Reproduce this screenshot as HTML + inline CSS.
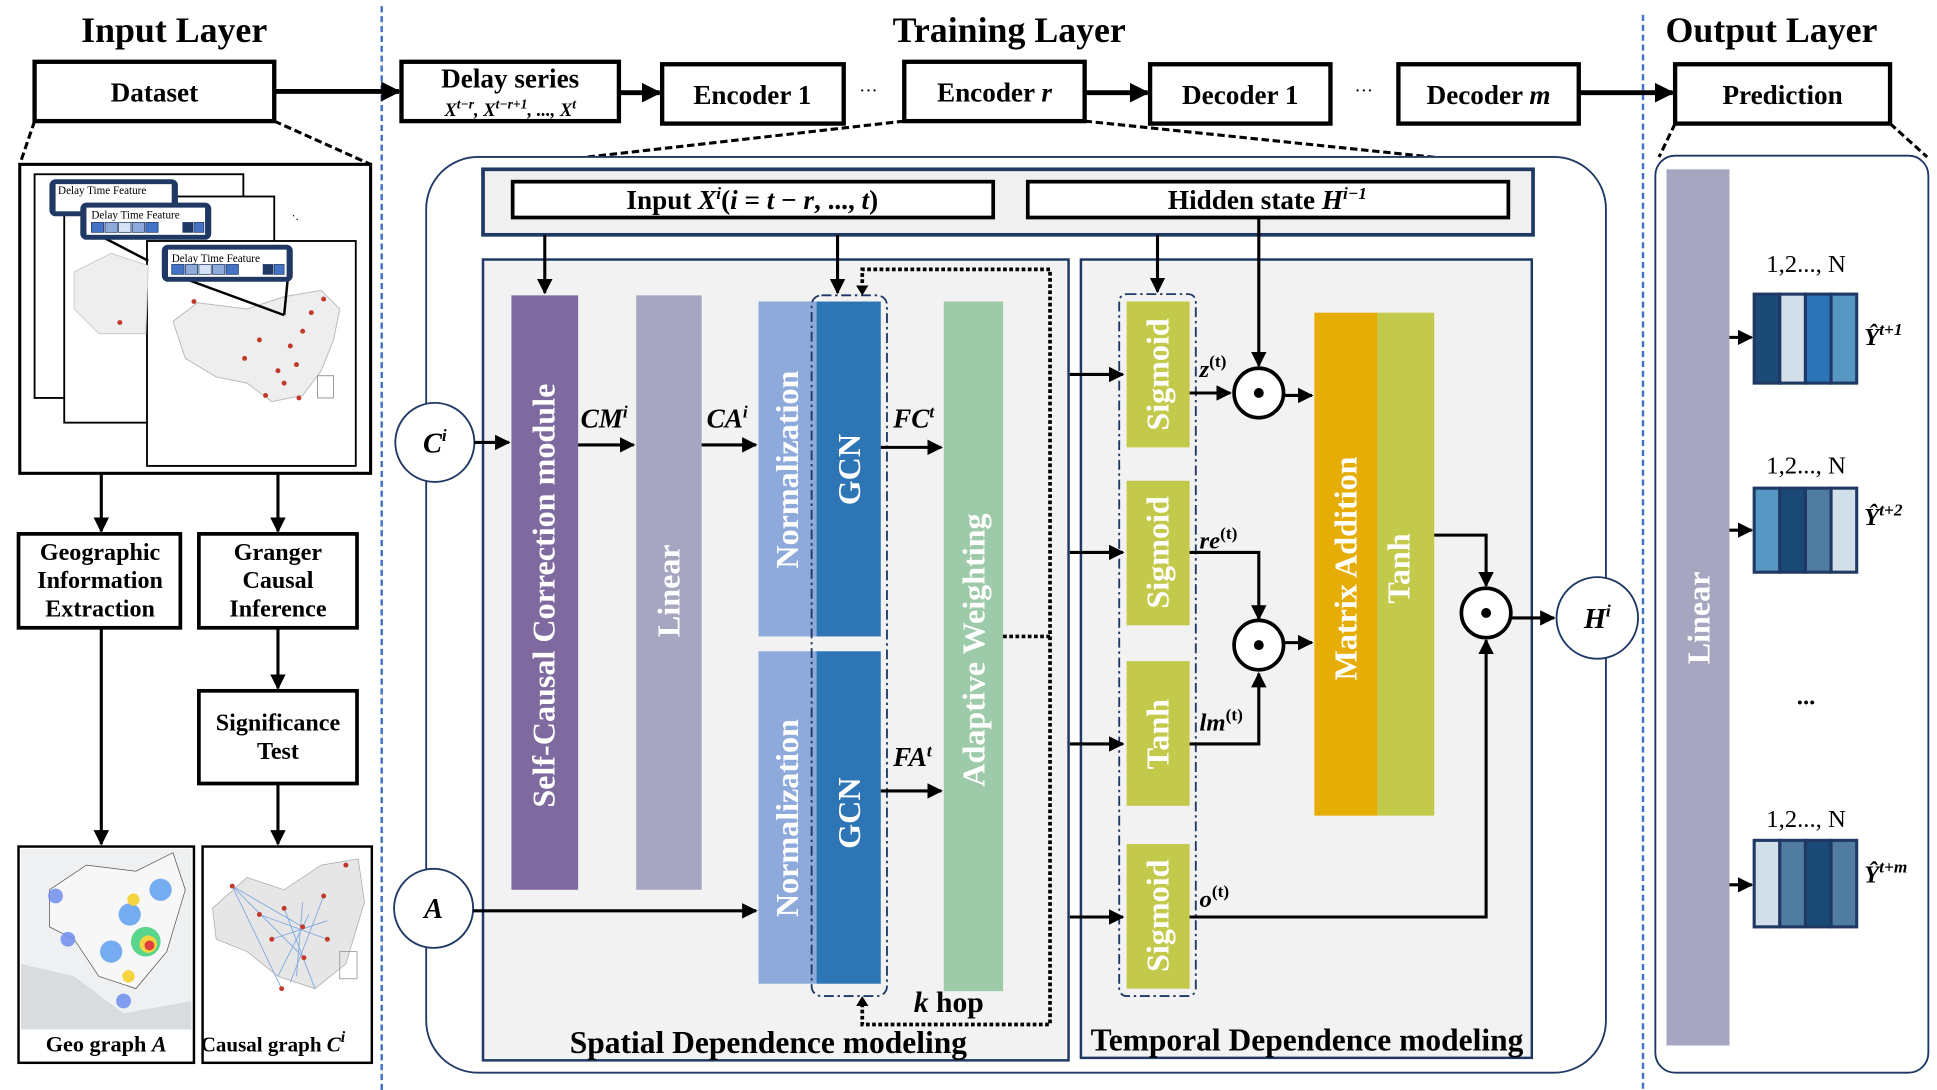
<!DOCTYPE html>
<html><head><meta charset="utf-8"><style>
html,body{margin:0;padding:0;background:#fff;}
svg{display:block;}
text{font-family:"Liberation Serif",serif;font-weight:bold;}
.n{font-weight:normal;}
</style></head><body>
<svg width="1937" height="1090" viewBox="0 0 1568 882" preserveAspectRatio="none" xmlns="http://www.w3.org/2000/svg">
<defs>
<marker id="ah" viewBox="0 0 10 10" refX="9" refY="5" markerWidth="4" markerHeight="4" orient="auto"><path d="M0,0L10,5L0,10z" fill="#000"/></marker>
<marker id="as" viewBox="0 0 10 10" refX="9" refY="5" markerWidth="5" markerHeight="5" orient="auto"><path d="M0,0L10,5L0,10z" fill="#000"/></marker>
</defs>
<rect width="1568" height="882" fill="#fff"/>
<!-- titles -->
<text x="141" y="34" font-size="29" text-anchor="middle">Input Layer</text>
<text x="817" y="34" font-size="29" text-anchor="middle">Training Layer</text>
<text x="1434" y="34" font-size="29" text-anchor="middle">Output Layer</text>
<line x1="309" y1="5" x2="309" y2="882" stroke="#4472c4" stroke-width="2" stroke-dasharray="5,3"/>
<line x1="1330" y1="12" x2="1330" y2="882" stroke="#4472c4" stroke-width="2" stroke-dasharray="5,3"/>

<!-- top row -->
<g fill="#fff" stroke="#000" stroke-width="3.5">
<rect x="28" y="50" width="194" height="48"/>
<rect x="325" y="50" width="176" height="48"/>
<rect x="536" y="52" width="147" height="48"/>
<rect x="732" y="50" width="146" height="48"/>
<rect x="931" y="52" width="146" height="48"/>
<rect x="1132" y="52" width="146" height="48"/>
<rect x="1356" y="52" width="174" height="48"/>
</g>
<g font-size="22" text-anchor="middle">
<text x="125" y="82">Dataset</text>
<text x="413" y="71">Delay series</text>
<text x="413" y="94" font-size="15" font-style="italic">X<tspan font-size="11" dy="-6">t−r</tspan><tspan dy="6">, X</tspan><tspan font-size="11" dy="-6">t−r+1</tspan><tspan dy="6">, ..., X</tspan><tspan font-size="11" dy="-6">t</tspan></text>
<text x="609" y="84">Encoder 1</text>
<text x="805" y="82">Encoder <tspan font-style="italic">r</tspan></text>
<text x="1004" y="84">Decoder 1</text>
<text x="1205" y="84">Decoder <tspan font-style="italic">m</tspan></text>
<text x="1443" y="84">Prediction</text>
<text x="703" y="78" font-size="15" class="n">···</text>
<text x="1104" y="78" font-size="15" class="n">···</text>
</g>
<g stroke="#000" stroke-width="4" marker-end="url(#ah)">
<line x1="222" y1="74" x2="323" y2="74"/>
<line x1="501" y1="75" x2="534" y2="75"/>
<line x1="878" y1="75" x2="929" y2="75"/>
<line x1="1278" y1="75" x2="1354" y2="75"/>
</g>
<g stroke="#000" stroke-width="2.5" stroke-dasharray="6,3">
<line x1="28" y1="98" x2="16" y2="133"/>
<line x1="222" y1="98" x2="300" y2="133"/>
<line x1="732" y1="98" x2="388" y2="137"/>
<line x1="878" y1="98" x2="1255" y2="137"/>
<line x1="1356" y1="100" x2="1343" y2="127"/>
<line x1="1530" y1="100" x2="1560" y2="127"/>
</g>

<!-- input layer image -->
<rect x="16" y="133" width="284" height="250" fill="#fff" stroke="#000" stroke-width="2.5"/>
<g stroke="#000" stroke-width="1.5" fill="#fff">
<rect x="28" y="141" width="169" height="181"/>
<rect x="52" y="159" width="170" height="183"/>
<rect x="119" y="195" width="169" height="182"/>
</g>
<path d="M140 260 L160 245 L200 250 L230 240 L260 235 L275 250 L270 275 L260 300 L245 320 L220 325 L200 310 L175 305 L150 290 Z" fill="#eee" stroke="#bbb" stroke-width="0.8"/>
<path d="M60 220 L90 205 L120 215 L118 270 L80 270 L60 250Z" fill="#eee" stroke="#ccc" stroke-width="0.8"/>
<g fill="#c0392b">
<circle cx="262" cy="242" r="2"/><circle cx="252" cy="253" r="2"/><circle cx="245" cy="268" r="2"/><circle cx="235" cy="280" r="2"/><circle cx="240" cy="295" r="2"/><circle cx="225" cy="300" r="2"/><circle cx="210" cy="275" r="2"/><circle cx="230" cy="310" r="2"/><circle cx="215" cy="320" r="2"/><circle cx="198" cy="290" r="2"/><circle cx="157" cy="244" r="2"/><circle cx="97" cy="261" r="2"/><circle cx="242" cy="322" r="2"/>
</g>
<g stroke="#000" stroke-width="2"><line x1="66" y1="183" x2="120" y2="211"/><line x1="140" y1="222" x2="230" y2="255"/><line x1="233" y1="225" x2="230" y2="255"/></g>
<g>
<rect x="40" y="145" width="104" height="30" rx="5" fill="#1f3864"/><rect x="45" y="149" width="94" height="22" fill="#fff"/>
<rect x="65" y="164" width="106" height="30" rx="5" fill="#1f3864"/><rect x="70" y="168" width="96" height="22" fill="#fff"/>
<rect x="131" y="198" width="106" height="30" rx="5" fill="#1f3864"/><rect x="136" y="202" width="96" height="22" fill="#fff"/>
</g>
<g font-size="9" class="n"><text x="47" y="157" class="n">Delay Time Feature</text><text x="74" y="177" class="n">Delay Time Feature</text><text x="139" y="212" class="n">Delay Time Feature</text></g>
<g stroke="#1f3864" stroke-width="0.6">
<rect x="74" y="180" width="10" height="8" fill="#4472c4"/><rect x="85" y="180" width="10" height="8" fill="#8eaadb"/><rect x="96" y="180" width="10" height="8" fill="#d6e2f5"/><rect x="107" y="180" width="10" height="8" fill="#8eaadb"/><rect x="118" y="180" width="10" height="8" fill="#4472c4"/><rect x="148" y="180" width="8" height="8" fill="#1f3864"/><rect x="157" y="180" width="8" height="8" fill="#4472c4"/>
<rect x="139" y="214" width="10" height="8" fill="#4472c4"/><rect x="150" y="214" width="10" height="8" fill="#8eaadb"/><rect x="161" y="214" width="10" height="8" fill="#d6e2f5"/><rect x="172" y="214" width="10" height="8" fill="#8eaadb"/><rect x="183" y="214" width="10" height="8" fill="#4472c4"/><rect x="213" y="214" width="8" height="8" fill="#1f3864"/><rect x="222" y="214" width="8" height="8" fill="#4472c4"/>
</g>
<text x="236" y="178" font-size="10" class="n">·.</text>
<rect x="257" y="304" width="13" height="18" fill="none" stroke="#999" stroke-width="0.8"/>

<!-- input processing boxes -->
<g fill="#fff" stroke="#000" stroke-width="3">
<rect x="15" y="432" width="131" height="76"/>
<rect x="161" y="432" width="128" height="76"/>
<rect x="161" y="559" width="128" height="75"/>
</g>
<g font-size="19.5" text-anchor="middle">
<text x="81" y="453">Geographic</text><text x="81" y="476">Information</text><text x="81" y="499">Extraction</text>
<text x="225" y="453">Granger</text><text x="225" y="476">Causal</text><text x="225" y="499">Inference</text>
<text x="225" y="591">Significance</text><text x="225" y="614">Test</text>
</g>
<g stroke="#000" stroke-width="2.5" marker-end="url(#as)">
<line x1="82" y1="383" x2="82" y2="430"/><line x1="225" y1="383" x2="225" y2="430"/>
<line x1="225" y1="508" x2="225" y2="557"/><line x1="82" y1="508" x2="82" y2="683"/><line x1="225" y1="634" x2="225" y2="683"/>
</g>
<!-- geo graph -->
<rect x="15" y="685" width="142" height="175" fill="#fff" stroke="#000" stroke-width="2"/>
<rect x="17" y="687" width="138" height="146" fill="#eef0f1"/>
<path d="M17 780 L60 790 L100 820 L155 810 L155 833 L17 833Z" fill="#d9dcdf"/>
<path d="M40 720 L70 700 L110 705 L140 690 L150 720 L135 770 L110 800 L80 790 L60 760 L40 750Z" fill="#f7f7f7" stroke="#555" stroke-width="0.6"/>
<g opacity="0.85">
<circle cx="45" cy="725" r="6" fill="#6f8ff0"/><circle cx="55" cy="760" r="6" fill="#6f8ff0"/>
<circle cx="105" cy="740" r="9" fill="#5fa0f0"/><circle cx="90" cy="770" r="9" fill="#5fa0f0"/><circle cx="130" cy="720" r="9" fill="#5fa0f0"/>
<circle cx="118" cy="762" r="12" fill="#3fd07a"/><circle cx="120" cy="764" r="7" fill="#f5d020"/><circle cx="121" cy="765" r="4" fill="#e02020"/>
<circle cx="108" cy="728" r="5" fill="#f5d020"/><circle cx="104" cy="790" r="5" fill="#f5d020"/><circle cx="100" cy="810" r="6" fill="#6f8ff0"/>
</g>
<text x="86" y="851" font-size="18" text-anchor="middle">Geo graph <tspan font-style="italic">A</tspan></text>
<!-- causal graph -->
<rect x="164" y="685" width="137" height="175" fill="#fff" stroke="#000" stroke-width="2"/>
<path d="M172 735 L200 710 L230 720 L260 700 L290 695 L295 730 L280 780 L255 800 L225 790 L200 770 L175 760Z" fill="#e6e6e6" stroke="#aaa" stroke-width="0.6"/>
<g stroke="#7ea6e0" stroke-width="0.7">
<line x1="188" y1="717" x2="245" y2="750"/><line x1="188" y1="717" x2="246" y2="775"/><line x1="188" y1="717" x2="228" y2="800"/><line x1="210" y1="740" x2="265" y2="760"/><line x1="230" y1="735" x2="255" y2="800"/><line x1="245" y1="730" x2="240" y2="790"/><line x1="250" y1="740" x2="225" y2="790"/><line x1="220" y1="760" x2="265" y2="745"/><line x1="262" y1="725" x2="235" y2="795"/>
</g>
<g fill="#c0392b"><circle cx="188" cy="717" r="2"/><circle cx="210" cy="740" r="2"/><circle cx="245" cy="750" r="2"/><circle cx="246" cy="775" r="2"/><circle cx="228" cy="800" r="2"/><circle cx="265" cy="760" r="2"/><circle cx="230" cy="735" r="2"/><circle cx="262" cy="725" r="2"/><circle cx="280" cy="700" r="2"/><circle cx="220" cy="760" r="2"/></g>
<rect x="275" y="770" width="14" height="22" fill="none" stroke="#999" stroke-width="0.7"/>
<text x="221" y="851" font-size="17" text-anchor="middle">Causal graph  <tspan font-style="italic">C</tspan><tspan font-style="italic" font-size="13" dy="-8">i</tspan></text>

<!-- training big container -->
<rect x="345" y="127" width="955" height="741" rx="42" fill="#fff" stroke="#1f3864" stroke-width="1.5"/>
<rect x="391" y="137" width="850" height="53" fill="#f0f0f0" stroke="#1f3864" stroke-width="3"/>
<rect x="415" y="147" width="389" height="29" fill="#fff" stroke="#000" stroke-width="3"/>
<rect x="832" y="147" width="389" height="29" fill="#fff" stroke="#000" stroke-width="3"/>
<text x="609" y="169" font-size="22" text-anchor="middle">Input <tspan font-style="italic">X</tspan><tspan font-size="14" dy="-8" font-style="italic">i</tspan><tspan dy="8">(</tspan><tspan font-style="italic">i</tspan> = <tspan font-style="italic">t</tspan> − <tspan font-style="italic">r</tspan>, ..., <tspan font-style="italic">t</tspan>)</text>
<text x="1026" y="169" font-size="22" text-anchor="middle">Hidden state <tspan font-style="italic">H</tspan><tspan font-size="14" dy="-8" font-style="italic">i−1</tspan></text>

<rect x="391" y="210" width="474" height="648" fill="#f2f2f2" stroke="#1f3864" stroke-width="2"/>
<rect x="875" y="210" width="365" height="646" fill="#f2f2f2" stroke="#1f3864" stroke-width="2"/>
<text x="622" y="852" font-size="25.5" text-anchor="middle">Spatial Dependence modeling</text>
<text x="1058" y="850" font-size="25.5" text-anchor="middle">Temporal Dependence modeling</text>

<!-- spatial bars -->
<rect x="414" y="239" width="54" height="481" fill="#7f6a9f"/>
<rect x="515" y="239" width="53" height="481" fill="#a6a6c0"/>
<rect x="614" y="244" width="47" height="271" fill="#8eaadb"/>
<rect x="661" y="244" width="52" height="271" fill="#2e75b6"/>
<rect x="614" y="527" width="47" height="269" fill="#8eaadb"/>
<rect x="661" y="527" width="52" height="269" fill="#2e75b6"/>
<rect x="764" y="244" width="48" height="558" fill="#9dcaa8"/>
<rect x="657" y="239" width="61" height="567" rx="8" fill="none" stroke="#1f3864" stroke-width="1.5" stroke-dasharray="8,3,2,3"/>
<g fill="#fff" font-size="26" text-anchor="middle">
<text transform="translate(449,482) rotate(-90)">Self-Causal Correction module</text>
<text transform="translate(550,478) rotate(-90)">Linear</text>
<text transform="translate(646,380) rotate(-90)">Normalization</text>
<text transform="translate(696,380) rotate(-90)">GCN</text>
<text transform="translate(646,662) rotate(-90)">Normalization</text>
<text transform="translate(696,658) rotate(-90)">GCN</text>
<text transform="translate(797,526) rotate(-90)">Adaptive Weighting</text>
</g>
<!-- dotted k hop loop -->
<g fill="none" stroke="#000" stroke-width="3" stroke-dasharray="3,2">
<polyline points="812,515 850,515 850,218 698,218 698,233"/>
<polyline points="850,515 850,829 698,829 698,812"/>
</g>
<path d="M693,231 L698,239 L703,231Z" fill="#000"/>
<path d="M693,814 L698,806 L703,814Z" fill="#000"/>
<text x="768" y="819" font-size="24" text-anchor="middle"><tspan font-style="italic">k</tspan> hop</text>

<!-- circles -->
<g fill="#fff" stroke="#1f3864" stroke-width="1.5">
<circle cx="352" cy="358" r="32"/><circle cx="351" cy="735" r="32"/><circle cx="1293" cy="500" r="33"/>
</g>
<g font-size="23" font-style="italic" text-anchor="middle">
<text x="352" y="366">C<tspan font-size="14" dy="-9">i</tspan></text>
<text x="351" y="743">A</text>
<text x="1293" y="508">H<tspan font-size="14" dy="-9">i</tspan></text>
</g>
<!-- spatial arrows -->
<g stroke="#000" stroke-width="2.5" marker-end="url(#as)">
<line x1="384" y1="358" x2="412" y2="358"/>
<line x1="468" y1="360" x2="513" y2="360"/>
<line x1="568" y1="360" x2="612" y2="360"/>
<line x1="713" y1="362" x2="762" y2="362"/>
<line x1="713" y1="640" x2="762" y2="640"/>
<line x1="383" y1="737" x2="612" y2="737"/>
<line x1="441" y1="190" x2="441" y2="237"/>
<line x1="678" y1="190" x2="678" y2="237"/>
<line x1="937" y1="190" x2="937" y2="236"/>
<line x1="1019" y1="176" x2="1019" y2="296"/>
</g>
<g font-size="22" font-style="italic">
<text x="470" y="346">CM<tspan font-size="14" dy="-8">i</tspan></text>
<text x="572" y="346">CA<tspan font-size="14" dy="-8">i</tspan></text>
<text x="723" y="346">FC<tspan font-size="14" dy="-8">t</tspan></text>
<text x="723" y="620">FA<tspan font-size="14" dy="-8">t</tspan></text>
</g>

<!-- temporal -->
<rect x="906" y="238" width="62" height="568" rx="6" fill="none" stroke="#1f3864" stroke-width="1.5" stroke-dasharray="8,3,2,3"/>
<g fill="#c3c94a">
<rect x="912" y="244" width="51" height="118"/><rect x="912" y="389" width="51" height="117"/>
<rect x="912" y="535" width="51" height="117"/><rect x="912" y="683" width="51" height="117"/>
<rect x="1115" y="253" width="46" height="407"/>
</g>
<rect x="1064" y="253" width="51" height="407" fill="#e6ad06"/>
<g fill="#fff" font-size="26" text-anchor="middle">
<text transform="translate(946,303) rotate(-90)">Sigmoid</text>
<text transform="translate(946,447) rotate(-90)">Sigmoid</text>
<text transform="translate(946,594) rotate(-90)">Tanh</text>
<text transform="translate(946,741) rotate(-90)">Sigmoid</text>
<text transform="translate(1098,460) rotate(-90)">Matrix Addition</text>
<text transform="translate(1141,460) rotate(-90)">Tanh</text>
</g>
<g stroke="#000" stroke-width="2.5" fill="none" marker-end="url(#as)">
<line x1="866" y1="303" x2="909" y2="303"/>
<line x1="866" y1="447" x2="909" y2="447"/>
<line x1="866" y1="602" x2="909" y2="602"/>
<line x1="866" y1="742" x2="909" y2="742"/>
<line x1="963" y1="318" x2="996" y2="318"/>
<line x1="1040" y1="320" x2="1062" y2="320"/>
<polyline points="963,447 1019,447 1019,501"/>
<polyline points="963,602 1019,602 1019,545"/>
<line x1="1040" y1="520" x2="1062" y2="520"/>
<polyline points="1161,433 1203,433 1203,474"/>
<polyline points="963,742 1203,742 1203,518"/>
<line x1="1223" y1="500" x2="1258" y2="500"/>
</g>
<g fill="#fff" stroke="#000" stroke-width="3">
<circle cx="1019" cy="318" r="20"/><circle cx="1019" cy="522" r="20"/><circle cx="1203" cy="496" r="20"/>
</g>
<g fill="#000"><circle cx="1019" cy="318" r="4"/><circle cx="1019" cy="522" r="4"/><circle cx="1203" cy="496" r="4"/></g>
<g font-size="20" font-style="italic">
<text x="971" y="305">z<tspan font-size="14" dy="-8" font-style="normal">(t)</tspan></text>
<text x="971" y="444">re<tspan font-size="14" dy="-8" font-style="normal">(t)</tspan></text>
<text x="971" y="591">lm<tspan font-size="14" dy="-8" font-style="normal">(t)</tspan></text>
<text x="971" y="734">o<tspan font-size="14" dy="-8" font-style="normal">(t)</tspan></text>
</g>

<!-- output -->
<rect x="1340" y="126" width="221" height="742" rx="16" fill="#fff" stroke="#1f3864" stroke-width="1.5"/>
<rect x="1349" y="137" width="51" height="709" fill="#a6a6c0"/>
<text transform="translate(1384,500) rotate(-90)" fill="#fff" font-size="26" text-anchor="middle">Linear</text>
<g font-size="20" text-anchor="middle">
<text x="1462" y="220" class="n">1,2..., N</text><text x="1462" y="383" class="n">1,2..., N</text><text x="1462" y="669" class="n">1,2..., N</text>
<text x="1462" y="570">...</text>
</g>
<g stroke="#1f3864" stroke-width="2.5">
<rect x="1420" y="238" width="20.75" height="72" fill="#1a4a75"/><rect x="1440.75" y="238" width="20.75" height="72" fill="#d3dfe8"/><rect x="1461.5" y="238" width="20.75" height="72" fill="#2c74b5"/><rect x="1482.25" y="238" width="20.75" height="72" fill="#5797c4"/>
<rect x="1420" y="395" width="20.75" height="68" fill="#5797c4"/><rect x="1440.75" y="395" width="20.75" height="68" fill="#1a4a75"/><rect x="1461.5" y="395" width="20.75" height="68" fill="#4f7ca0"/><rect x="1482.25" y="395" width="20.75" height="68" fill="#d3dfe8"/>
<rect x="1420" y="680" width="20.75" height="70" fill="#d3dfe8"/><rect x="1440.75" y="680" width="20.75" height="70" fill="#4f7ca0"/><rect x="1461.5" y="680" width="20.75" height="70" fill="#1a4a75"/><rect x="1482.25" y="680" width="20.75" height="70" fill="#4f7ca0"/>
</g>
<g stroke="#000" stroke-width="2.5" marker-end="url(#as)">
<line x1="1400" y1="273" x2="1418" y2="273"/><line x1="1400" y1="429" x2="1418" y2="429"/><line x1="1400" y1="716" x2="1418" y2="716"/>
</g>
<g font-size="20" font-style="italic">
<text x="1509" y="279">Ŷ<tspan font-size="14" dy="-8">t+1</tspan></text>
<text x="1509" y="425">Ŷ<tspan font-size="14" dy="-8">t+2</tspan></text>
<text x="1509" y="714">Ŷ<tspan font-size="14" dy="-8">t+m</tspan></text>
</g>
</svg>
</body></html>
